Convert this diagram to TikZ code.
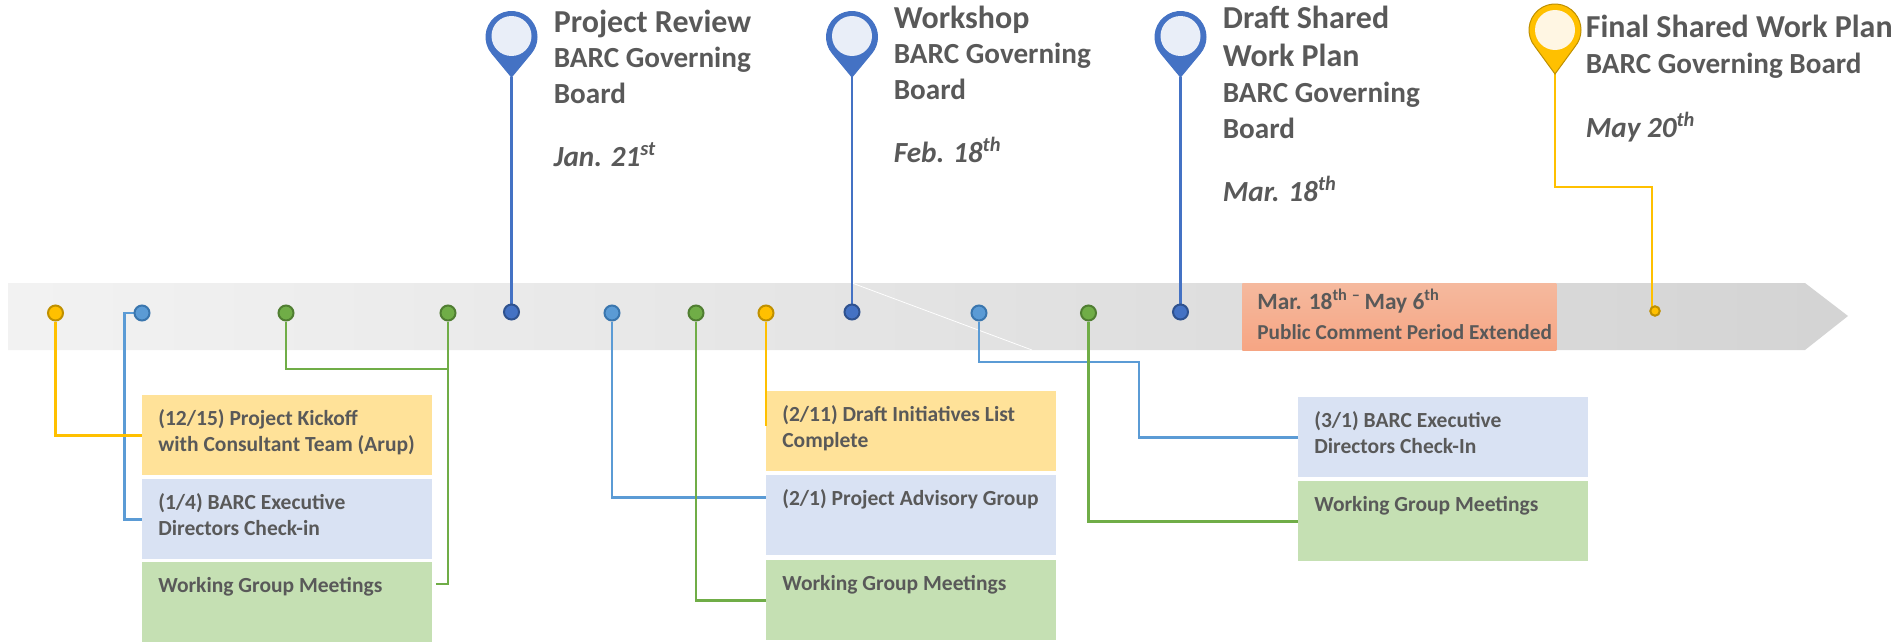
\documentclass[tikz,border=0pt]{standalone}
\usepackage{fontspec}
\setmainfont{Carlito}
\definecolor{inkgrey}{HTML}{595959}
\definecolor{yellowbox}{HTML}{FFE299}
\definecolor{bluebox}{HTML}{D9E2F3}
\definecolor{greenbox}{HTML}{C5E0B3}
\definecolor{amberline}{HTML}{FFC000}
\definecolor{amberedge}{HTML}{BF9000}
\definecolor{skyline}{HTML}{5B9BD5}
\definecolor{skyedge}{HTML}{3A76AE}
\definecolor{leafline}{HTML}{70AD47}
\definecolor{leafedge}{HTML}{507E32}
\definecolor{pinblue}{HTML}{4472C4}
\definecolor{pinedge}{HTML}{2F528F}
\definecolor{pinpale}{HTML}{E9EEF8}
\definecolor{amberpale}{HTML}{FFF6E3}
\definecolor{peachtop}{HTML}{F5B99E}
\definecolor{peachlow}{HTML}{F6A583}
\pgfdeclarelayer{dotlayer}
\pgfsetlayers{main,dotlayer}
\newcommand{\boxlines}[1]{\parbox[t][1.14cm][t]{5.16cm}{\raggedright\strut #1}}
\newcommand{\headline}[1]{{\fontsize{18.2}{20.2}\selectfont #1}}
\tikzset{
	taskbox/.style={anchor=north west,inner xsep=0.32cm,inner ysep=0.23cm,text=inkgrey,font=\fontsize{12.25}{15}\selectfont\bfseries},
	pintext/.style={anchor=north west,inner sep=0pt,align=left,text=inkgrey,font=\fontsize{16.6}{20.2}\selectfont\bfseries},
	dotmark/.style={circle,minimum size=0.3cm,inner sep=0pt,line width=0.04cm},
	lead/.style={line width=0.05cm},
	pinhole/.style={circle,minimum size=0.8cm,inner sep=0pt},
	pinbody/.style={line width=0.02cm}
}
\begin{document}
\begin{tikzpicture}[x=0.02cm,y=0.02cm]
		\useasboundingbox (0,0) rectangle (1893,-642);
		\shade [left color=black!5,right color=black!17] (8,-283) -- (1805,-283) -- (1848,-316) -- (1805,-350) -- (8,-350) -- cycle;
		\draw [white,line width=0.015cm] (852,-283) -- (1032,-350);
		\node (periodbox) [anchor=north west,minimum width=6.28cm,minimum height=1.35cm,inner sep=0pt,top color=peachtop,bottom color=peachlow] at (1242,-283) {};
		\node (periodtext) [pintext,font=\fontsize{13.3}{16}\selectfont\bfseries] at (1257,-288.5) {Mar. 18\textsuperscript{th}\,\textsuperscript{--}\,May 6\textsuperscript{th}};
		\node (periodnote) [pintext,font=\fontsize{12.1}{14}\selectfont\bfseries] at (1257,-324.5) {Public Comment Period Extended};
		\node (kickoff) [taskbox,fill=yellowbox] at (142,-395) {\boxlines{(12/15) Project Kickoff\\with Consultant Team (Arup)}};
		\node (execone) [taskbox,fill=bluebox] at (142,-479) {\boxlines{(1/4) BARC Executive\\Directors Check-in}};
		\node (groupone) [taskbox,fill=greenbox] at (142,-562) {\boxlines{Working Group Meetings}};
		\node (initiatives) [taskbox,fill=yellowbox] at (766,-391) {\boxlines{(2/11) Draft Initiatives List\\Complete}};
		\node (advisory) [taskbox,fill=bluebox] at (766,-475) {\boxlines{(2/1) Project Advisory Group}};
		\node (grouptwo) [taskbox,fill=greenbox] at (766,-560) {\boxlines{Working Group Meetings}};
		\node (exectwo) [taskbox,fill=bluebox] at (1298,-397) {\boxlines{(3/1) BARC Executive\\Directors Check-In}};
		\node (groupthree) [taskbox,fill=greenbox] at (1298,-481) {\boxlines{Working Group Meetings}};
		\begin{pgfonlayer}{dotlayer}
		\node (dotkick) [dotmark,fill=amberline,draw=amberedge] at (55.5,-313) {};
		\node (dotexecone) [dotmark,fill=skyline,draw=skyedge] at (142,-313) {};
		\node (dotgroupa) [dotmark,fill=leafline,draw=leafedge] at (286,-313) {};
		\node (dotgroupb) [dotmark,fill=leafline,draw=leafedge] at (448,-313) {};
		\node (dotreview) [dotmark,fill=pinblue,draw=pinedge] at (511.5,-312) {};
		\node (dotadvisory) [dotmark,fill=skyline,draw=skyedge] at (612,-313) {};
		\node (dotgroupc) [dotmark,fill=leafline,draw=leafedge] at (696,-313) {};
		\node (dotinit) [dotmark,fill=amberline,draw=amberedge] at (766,-313) {};
		\node (dotworkshop) [dotmark,fill=pinblue,draw=pinedge] at (852,-312) {};
		\node (dotexectwo) [dotmark,fill=skyline,draw=skyedge] at (979,-313) {};
		\node (dotgroupd) [dotmark,fill=leafline,draw=leafedge] at (1088.5,-313) {};
		\node (dotdraft) [dotmark,fill=pinblue,draw=pinedge] at (1180.5,-312) {};
		\node (dotfinal) [dotmark,minimum size=0.19cm,fill=amberline,draw=amberedge] at (1655,-311) {};
		\end{pgfonlayer}
		\coordinate (initend) at (766,-426);
		\coordinate (groupend) at (436,-584);
		\coordinate (reviewtip) at (511.5,-77);
		\coordinate (workshoptip) at (852,-77);
		\coordinate (drafttip) at (1180.5,-77);
		\coordinate (finaltip) at (1555,-74);
		\draw [lead,skyline] (dotexecone) -- (124.5,-313) |- (execone.west);
		\draw [lead,skyline] (dotadvisory) |- ([yshift=0.36cm]advisory.west);
		\draw [lead,skyline] (dotexectwo) |- (1139,-362) |- (exectwo.west);
		\draw [lead,amberline] (dotkick) |- (kickoff.west);
		\draw [lead,amberline] (dotinit) -- (initend);
		\draw [lead,amberline] (finaltip) |- ([xshift=-0.06cm,yshift=2.48cm]dotfinal.center) -- ([xshift=-0.06cm]dotfinal.center);
		\draw [lead,leafline] (dotgroupa) |- (dotgroupb |- 0,-369);
		\draw [lead,leafline] (dotgroupb) |- (groupend);
		\draw [lead,leafline] (dotgroupc) |- (grouptwo.west);
		\draw [lead,leafline] (dotgroupd) |- (groupthree.west);
		\draw [lead,pinblue] (reviewtip) -- (dotreview);
		\draw [lead,pinblue] (workshoptip) -- (dotworkshop);
		\draw [lead,pinblue] (drafttip) -- (dotdraft);
		\draw [pinbody,fill=pinblue,draw=pinblue] (reviewtip) -- ([shift={(220:25.5)}]511.5,-37) arc (220:-40:25.5) -- cycle;
		\node (pinreview) [pinhole,fill=pinpale] at (511.5,-36) {};
		\draw [pinbody,fill=pinblue,draw=pinblue] (workshoptip) -- ([shift={(220:25.5)}]852,-37) arc (220:-40:25.5) -- cycle;
		\node (pinworkshop) [pinhole,fill=pinpale] at (852,-36) {};
		\draw [pinbody,fill=pinblue,draw=pinblue] (drafttip) -- ([shift={(220:25.5)}]1180.5,-37) arc (220:-40:25.5) -- cycle;
		\node (pindraft) [pinhole,fill=pinpale] at (1180.5,-36) {};
		\draw [pinbody,fill=amberline,draw=amberedge] (finaltip) -- ([shift={(220:26)}]1555,-30) arc (220:-40:26) -- cycle;
		\node (pinfinal) [pinhole,fill=amberpale] at (1555,-30) {};
		\node (textreview) [pintext] at (553.5,-9.5) {\headline{Project Review}\\BARC Governing\\Board\\[0.55cm]\textit{Jan. 21\textsuperscript{st}}};
		\node (textworkshop) [pintext] at (893.5,-5.5) {\headline{Workshop}\\BARC Governing\\Board\\[0.55cm]\textit{Feb. 18\textsuperscript{th}}};
		\node (textdraft) [pintext] at (1222.5,-5.5) {\headline{Draft Shared}\\[0.05cm]\headline{Work Plan}\\[0.02cm]BARC Governing\\Board\\[0.55cm]\textit{Mar. 18\textsuperscript{th}}};
		\node (textfinal) [pintext] at (1585.5,-15) {\headline{Final Shared Work Plan}\\BARC Governing Board\\[0.58cm]\textit{May 20\textsuperscript{th}}};
	\end{tikzpicture}
\end{document}
